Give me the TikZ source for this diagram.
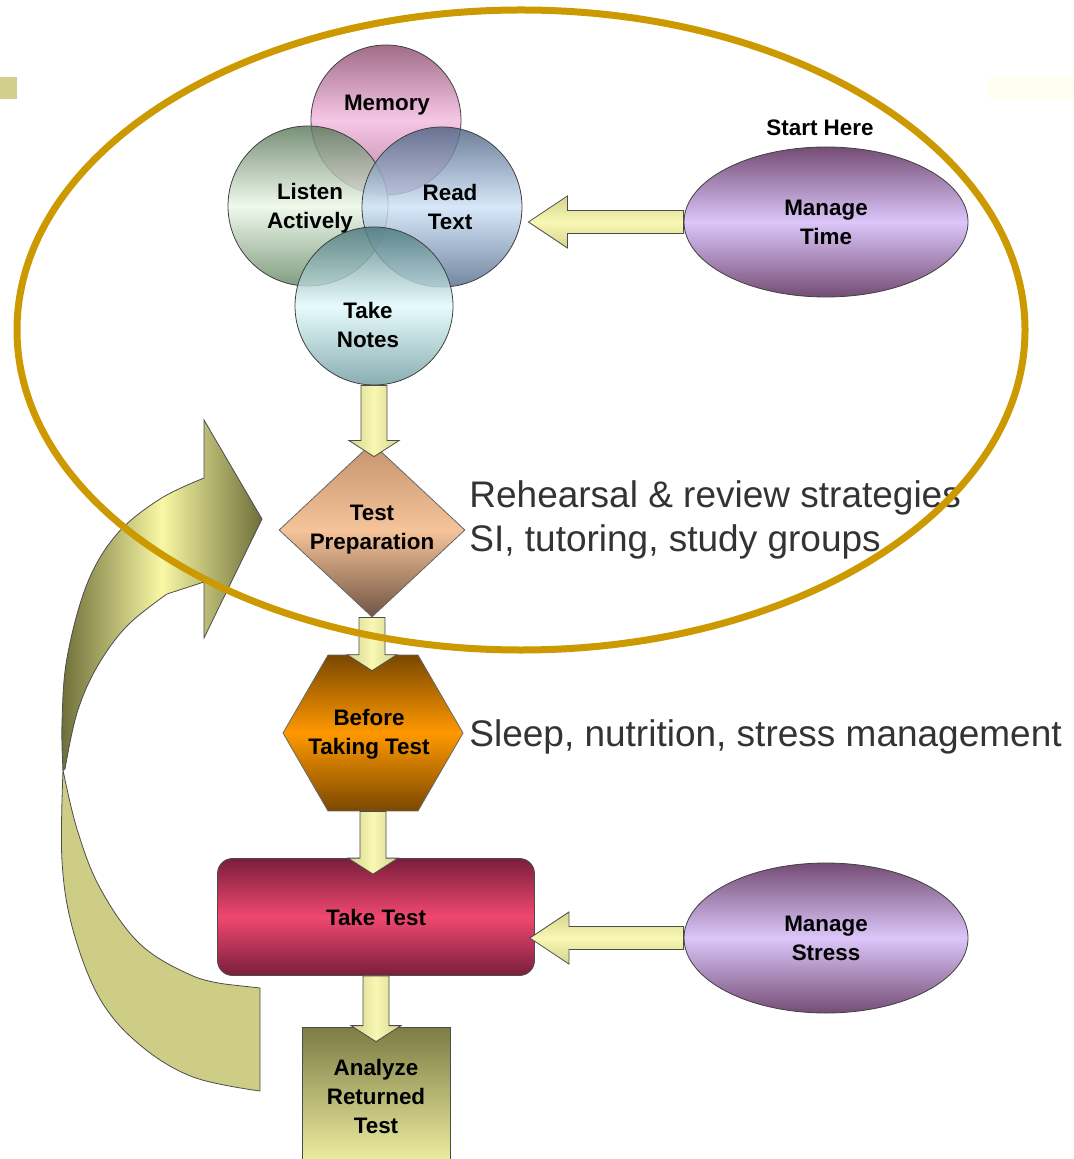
\documentclass[tikz,border=0pt]{standalone}
\usepackage{fontspec}
\setmainfont{Liberation Sans}
\usetikzlibrary{shapes.geometric,calc}

\definecolor{ringgold}{HTML}{CC9900}
\definecolor{notegray}{HTML}{333333}
\definecolor{ribbondark}{HTML}{6E6E3A}
\definecolor{ribbonlight}{HTML}{F8F8A4}
\definecolor{ribbonflat}{HTML}{CDCD86}
\definecolor{arrowlight}{HTML}{F8F8B4}
\definecolor{arrowdark}{HTML}{D4D48C}

% block arrow pointing down, shaft from #1 to tip #2
\newcommand{\arrowdown}[2]{%
  \path[vblock] let \p1=(#1), \p2=(#2) in
    (\x1-6.5pt,\y1) -- (\x1-6.5pt,\y2+8pt) -- (\x1-12.5pt,\y2+8pt) -- (\x1,\y2)
    -- (\x1+12.5pt,\y2+8pt) -- (\x1+6.5pt,\y2+8pt) -- (\x1+6.5pt,\y1) -- cycle;}
% block arrow pointing left
\newcommand{\arrowleft}[2]{%
  \path[hblock] let \p1=(#1), \p2=(#2) in
    (\x1,\y1+5.75pt) -- (\x2+19.5pt,\y1+5.75pt) -- (\x2+19.5pt,\y1+13pt) -- (\x2,\y1)
    -- (\x2+19.5pt,\y1-13pt) -- (\x2+19.5pt,\y1-5.75pt) -- (\x1,\y1-5.75pt) -- cycle;}

\begin{document}
\begin{tikzpicture}[x=0.5pt,y=-0.5pt,
    lbl/.style={font=\fontsize{11.2}{14.5}\selectfont\bfseries, align=center, inner sep=0pt},
    note/.style={font=\fontsize{18.5}{22}\selectfont, text=notegray, inner sep=0pt, anchor=base west},
    venn/.style={circle, draw=black!75, inner sep=0pt, fill opacity=0.82},
    oval/.style={ellipse, draw=black!75, inner sep=0pt, minimum width=142pt, minimum height=75pt,
      top color=violet!45!black!70, bottom color=violet!45!black!70, middle color={rgb,255:red,220;green,198;blue,250}, lbl},
    vblock/.style={draw=black!70, left color=arrowdark, right color=arrowdark, middle color=arrowlight},
    hblock/.style={draw=black!70, top color=arrowdark, bottom color=arrowdark, middle color=arrowlight}]
  \useasboundingbox (0,0) rectangle (1073,1159);

  \fill[ribbonflat!95!white] (0,77) rectangle (17,99);
  \fill[yellow!30!white!18] (987,77) rectangle (1073,99);

  % curved return arrow
  \filldraw[draw=black!70, fill=ribbonflat] plot[smooth, tension=0.6] coordinates {(63,770) (62,861) (73,930) (100,999) (140,1045) (193,1077) (260,1091)}
    -- (260,988) -- plot[smooth, tension=0.6] coordinates {(233,985) (193,976) (140,944) (100,888) (77,829) (63,770)} -- cycle;
  \shadedraw[draw=black!70, left color=ribbondark, right color=ribbondark, middle color=ribbonlight]
    plot[smooth, tension=0.6] coordinates {(63,770) (62,723) (67,658) (87,584) (117,534) (160,499) (204,478)}
    -- (204,420) -- (262,519) -- (204,638) -- (204,582)
    -- plot[smooth, tension=0.6] coordinates {(167,594) (127,626) (97,667) (77,713) (65,769)} -- cycle;

  % study skills
  \node[venn, minimum size=75pt, top color={rgb,255:red,140;green,76;blue,110}, bottom color={rgb,255:red,170;green,100;blue,140}, middle color={rgb,255:red,244;green,186;blue,224}] (memory) at (386,120) {};
  \node[venn, minimum size=80pt, top color={rgb,255:red,90;green,120;blue,90}, bottom color={rgb,255:red,100;green,135;blue,100}, middle color={rgb,255:red,236;green,248;blue,232}] (listen) at (308,206) {};
  \node[venn, minimum size=80pt, top color={rgb,255:red,76;green,98;blue,130}, bottom color={rgb,255:red,84;green,108;blue,140}, middle color={rgb,255:red,206;green,226;blue,248}] (read) at (442,207) {};
  \node[venn, minimum size=79pt, top color={rgb,255:red,72;green,118;blue,122}, bottom color={rgb,255:red,110;green,156;blue,160}, middle color={rgb,255:red,226;green,250;blue,252}] (notes) at (374,306) {};
  \node[lbl] (memorytxt) at (387,105) {Memory};
  \node[lbl] (listentxt) at (310,208) {Listen\\Actively};
  \node[lbl] (readtxt) at (450,207) {Read\\Text};
  \node[lbl] (notestxt) at (368,325) {Take\\Notes};

  \node[lbl] (start) at (820,128) {Start Here};
  \node[oval] (time) at (826,222) {Manage\\Time};
  \node[oval] (stress) at (826,938) {Manage\\Stress};

  % main flow
  \node[diamond, draw=black!60, inner sep=0pt, minimum width=93pt, minimum height=87pt, lbl,
    top color={rgb,255:red,196;green,146;blue,108}, bottom color={rgb,255:red,112;green,84;blue,66}, middle color={rgb,255:red,246;green,196;blue,154}] (prep) at (372,530) {Test\\Preparation};
  \node[regular polygon, regular polygon sides=6, draw=black!60, inner sep=0pt, minimum size=90pt,
    top color={rgb,255:red,122;green,72;blue,0}, bottom color={rgb,255:red,122;green,72;blue,0}, middle color={rgb,255:red,255;green,152;blue,0}] (before) at (373,733) {};
  \node[lbl] (beforetxt) at (369,734) {Before\\Taking Test};
  \node[rectangle, rounded corners=7.5pt, draw=black!70, minimum width=158.5pt, minimum height=58.5pt, lbl,
    top color={rgb,255:red,122;green,30;blue,60}, bottom color={rgb,255:red,122;green,30;blue,60}, middle color={rgb,255:red,240;green,72;blue,112}] (taketest) at (376,917) {Take Test};
  \node[rectangle, draw=black!70, minimum width=74pt, minimum height=69pt, lbl,
    top color={rgb,255:red,124;green,124;blue,68}, bottom color={rgb,255:red,240;green,240;blue,164}] (analyze) at (376,1096) {Analyze\\Returned\\Test};

  \arrowdown{notes.south}{$(prep.north)+(0,14)$}
  \arrowdown{prep.south}{$(before.north)+(0,16)$}
  \arrowdown{before.south}{$(taketest.north)+(0,16)$}
  \arrowdown{taketest.south}{$(analyze.north)+(0,15)$}
  \arrowleft{time.west}{$(read.east)+(6,0)$}
  \arrowleft{stress.west}{$(taketest.east)+(-5,0)$}

  \node[note] (rehearse) at (469,507) {Rehearsal \& review strategies};
  \node[note] (groups) at (469,551) {SI, tutoring, study groups};
  \node[note] (sleep) at (469,746) {Sleep, nutrition, stress management};

  \draw[ringgold, line width=3.5pt] (521,330) ellipse [x radius=252pt, y radius=160pt];
\end{tikzpicture}
\end{document}
